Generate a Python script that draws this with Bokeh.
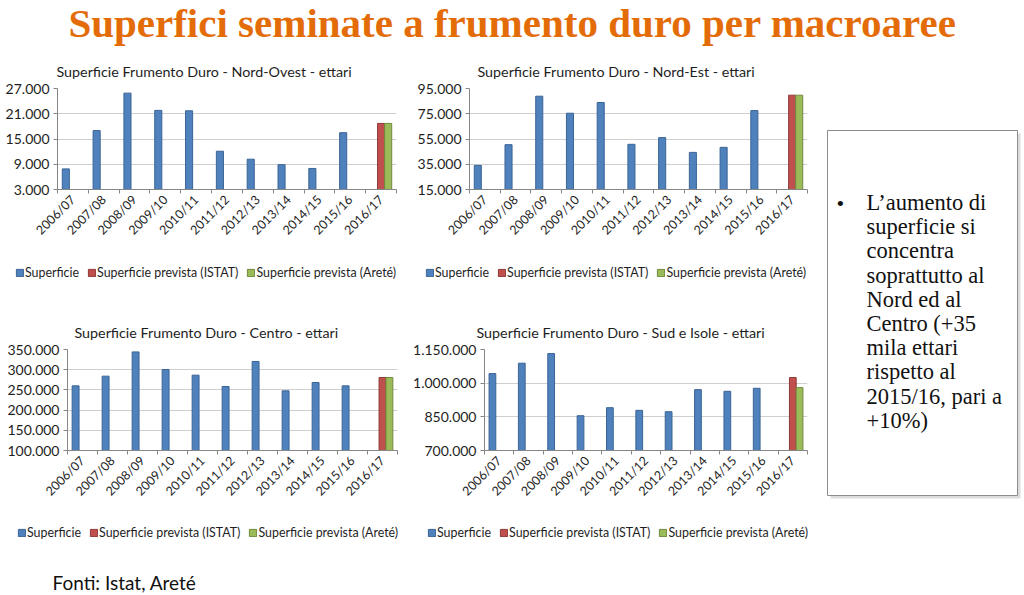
from bokeh.plotting import figure
from bokeh.models import Range1d, FixedTicker, Legend, LegendItem, ColumnDataSource
from bokeh.layouts import column, row
from bokeh.transform import dodge
from bokeh.core.properties import value
from bokeh.embed import file_html
from bokeh.resources import INLINE
from math import pi

# ---------------- data ----------------
seasons = ["2006/07", "2007/08", "2008/09", "2009/10", "2010/11", "2011/12",
           "2012/13", "2013/14", "2014/15", "2015/16", "2016/17"]

nord_ovest = [7900, 17000, 25900, 21800, 21700, 12100, 10200, 8900, 8000, 16500]
nord_ovest_istat = [18700]
nord_ovest_arete = [18700]
nord_ovest_ticks = [3000, 9000, 15000, 21000, 27000]
nord_ovest_labels = ["3.000", "9.000", "15.000", "21.000", "27.000"]

nord_est = [34100, 50500, 88900, 75400, 83900, 50800, 56100, 44400, 48400, 77500]
nord_est_istat = [89700]
nord_est_arete = [89700]
nord_est_ticks = [15000, 35000, 55000, 75000, 95000]
nord_est_labels = ["15.000", "35.000", "55.000", "75.000", "95.000"]

centro = [260000, 284000, 344000, 300500, 286500, 258400, 320300, 247700, 268300, 260000]
centro_istat = [280700]
centro_arete = [280700]
centro_ticks = [100000, 150000, 200000, 250000, 300000, 350000]
centro_labels = ["100.000", "150.000", "200.000", "250.000", "300.000", "350.000"]

sud_isole = [1042700, 1089000, 1132000, 855000, 890800, 878800, 872900, 971200, 963800, 977200]
sud_isole_istat = [1024900]
sud_isole_arete = [980200]
sud_isole_ticks = [700000, 850000, 1000000, 1150000]
sud_isole_labels = ["700.000", "850.000", "1.000.000", "1.150.000"]

series_names = ["Superficie", "Superficie prevista (ISTAT)", "Superficie prevista (Areté)"]

main_title = "Superfici seminate a frumento duro per macroaree"
box_lines = ["L\u2019aumento di", "superficie si", "concentra", "soprattutto al",
             "Nord ed al", "Centro (+35", "mila ettari", "rispetto al",
             "2015/16, pari a", "+10%)"]
footer_text = "Fonti: Istat, Areté"

# ---------------- style ----------------
FONT = "Lato"
BLUE, BLUE_L = "#4F81BD", "#3B6496"
RED, RED_L = "#C0504D", "#8E3A38"
GREEN, GREEN_L = "#9BBB59", "#71893F"
AXIS = "#868686"
GRID = "#CFCFCF"
TXT = "#1E1E1E"
FILLS = [(BLUE, BLUE_L), (RED, RED_L), (GREEN, GREEN_L)]
BASE_SHIFT = 0.36  # alphabetic-baseline correction (em)


def make_chart(title, sup, istat, arete, ticks, labels, width, height,
               mbl, mbr, mbt, mbb, title_offset):
    n = len(seasons)
    p = figure(width=width, height=height, x_range=Range1d(0, n),
               y_range=Range1d(ticks[0], ticks[-1]),
               output_backend="svg", toolbar_location=None,
               min_border_left=mbl, min_border_right=mbr,
               min_border_top=mbt, min_border_bottom=mbb)
    p.outline_line_color = None
    p.background_fill_color = None
    p.border_fill_color = None

    centers = [i + 0.5 for i in range(n)]
    src_sup = ColumnDataSource(dict(x=centers[:len(sup)], top=sup))
    src_ist = ColumnDataSource(dict(x=centers[n - len(istat):], top=istat))
    src_are = ColumnDataSource(dict(x=centers[n - len(arete):], top=arete))
    w = 0.23
    bottom = ticks[0]
    for src, off, (fc, lc) in zip([src_sup, src_ist, src_are], [-w, 0, w], FILLS):
        p.vbar(x=dodge("x", off, range=p.x_range), top="top", bottom=bottom, width=w,
               source=src, fill_color=fc, line_color=lc, line_width=1)

    # x axis
    xa = p.xaxis[0]
    xa.ticker = FixedTicker(ticks=centers, minor_ticks=list(range(n + 1)))
    xa.major_label_overrides = {c: s for c, s in zip(centers, seasons)}
    xa.major_label_orientation = pi / 4
    xa.major_tick_line_color = None
    xa.minor_tick_line_color = AXIS
    xa.minor_tick_in = 0
    xa.minor_tick_out = 4
    xa.axis_line_color = AXIS
    xa.major_label_text_font = FONT
    xa.major_label_text_font_size = "12.5px"
    xa.major_label_text_color = TXT
    xa.major_label_standoff = 2

    # y axis
    ya = p.yaxis[0]
    ya.ticker = FixedTicker(ticks=ticks)
    ya.major_label_overrides = {t: l for t, l in zip(ticks, labels)}
    ya.major_tick_line_color = AXIS
    ya.major_tick_in = 0
    ya.major_tick_out = 4
    ya.minor_tick_line_color = None
    ya.axis_line_color = AXIS
    ya.major_label_text_font = FONT
    ya.major_label_text_font_size = "14px"
    ya.major_label_text_color = TXT
    ya.major_label_standoff = 4

    p.xgrid.visible = False
    p.ygrid.ticker = FixedTicker(ticks=ticks)
    p.ygrid.grid_line_color = GRID

    p.title.text = title
    p.title.align = "left"
    p.title.text_font = FONT
    p.title.text_font_size = "14.3px"
    p.title.text_font_style = "normal"
    p.title.text_color = TXT
    p.title.offset = title_offset
    p.title.standoff = 18
    return p


def make_legend(width, height, x0, y0, spacing):
    f = figure(width=width, height=height, x_range=Range1d(0, 1), y_range=Range1d(0, 1),
               output_backend="svg", toolbar_location=None, min_border=0)
    f.axis.visible = False
    f.grid.visible = False
    f.outline_line_color = None
    f.background_fill_color = None
    f.border_fill_color = None
    rs = []
    for fc, lc in FILLS:
        # swatch-only renderer, kept outside the visible range
        rs.append(f.quad(left=[0.4], right=[0.6], top=[-2], bottom=[-3],
                         fill_color=fc, line_color=lc, line_width=1))
    legend = Legend(items=[LegendItem(label=s, renderers=[r]) for s, r in zip(series_names, rs)],
                    orientation="horizontal", location=(x0, y0),
                    border_line_color=None, background_fill_alpha=0,
                    label_text_font=FONT, label_text_font_size="12.4px",
                    label_text_color=TXT, label_text_baseline="middle",
                    glyph_width=9, glyph_height=9, label_standoff=1, spacing=spacing,
                    padding=0, margin=0, label_height=14)
    f.add_layout(legend, "center")
    return f


c1 = make_chart("Superficie Frumento Duro - Nord-Ovest - ettari", nord_ovest,
                nord_ovest_istat, nord_ovest_arete, nord_ovest_ticks, nord_ovest_labels,
                410, 208, 57, 14, 38, 69, -1)
c2 = make_chart("Superficie Frumento Duro - Nord-Est - ettari", nord_est,
                nord_est_istat, nord_est_arete, nord_est_ticks, nord_est_labels,
                410, 208, 59, 13, 38, 69, 8)
c3 = make_chart("Superficie Frumento Duro - Centro - ettari", centro,
                centro_istat, centro_arete, centro_ticks, centro_labels,
                410, 228, 67, 13, 59, 68, 7)
c4 = make_chart("Superficie Frumento Duro - Sud e Isole - ettari", sud_isole,
                sud_isole_istat, sud_isole_arete, sud_isole_ticks, sud_isole_labels,
                410, 228, 68, 13, 59, 68, -8)

l1 = make_legend(410, 32, 15, 10, 8)
l2 = make_legend(410, 32, 15, 10, 8)
l3 = make_legend(410, 30, 17, 8, 8)
l4 = make_legend(410, 30, 17, 8, 8)


def blank(width, height):
    f = figure(width=width, height=height, x_range=Range1d(0, width),
               y_range=Range1d(height, 0), output_backend="svg",
               toolbar_location=None, min_border=0)
    f.axis.visible = False
    f.grid.visible = False
    f.outline_line_color = None
    f.background_fill_color = None
    f.border_fill_color = None
    return f


# title
tf = blank(1024, 50)
tf.text(x=[512], y=[36.8 - BASE_SHIFT * 41], text=[main_title],
        text_font=value("Liberation Serif"),
        text_font_style="bold", text_font_size="41px", text_color="#E36C09",
        text_align="center", text_baseline="alphabetic")

# text box
bf = blank(204, 498)
bf.quad(left=[10], right=[200], top=[83], bottom=[448],
        fill_color="#9A9A9A", fill_alpha=0.35, line_color=None)
bf.quad(left=[7], right=[197], top=[80], bottom=[445],
        fill_color="white", line_color="#8C8C8C", line_width=1)
bf.text(x=[16], y=[153], text=["\u2022"], text_font=value("Liberation Serif"),
        text_font_size="22px", text_color="#111111", text_baseline="middle")
bf.text(x=[46] * len(box_lines),
        y=[160 - BASE_SHIFT * 22.5 + 24.2 * i for i in range(len(box_lines))],
        text=box_lines, text_font=value("Liberation Serif"), text_font_size="22.5px",
        text_color="#111111", text_baseline="alphabetic")

# footer
ff = blank(1024, 47)
ff.text(x=[52], y=[41 - BASE_SHIFT * 19], text=[footer_text], text_font=value(FONT),
        text_font_size="19px", text_color="#111111", text_baseline="alphabetic")

charts = column(row(c1, c2), row(l1, l2), row(c3, c4), row(l3, l4))
layout = column(tf, row(charts, bf), ff)

open("out.html", "w").write(file_html(layout, INLINE))
